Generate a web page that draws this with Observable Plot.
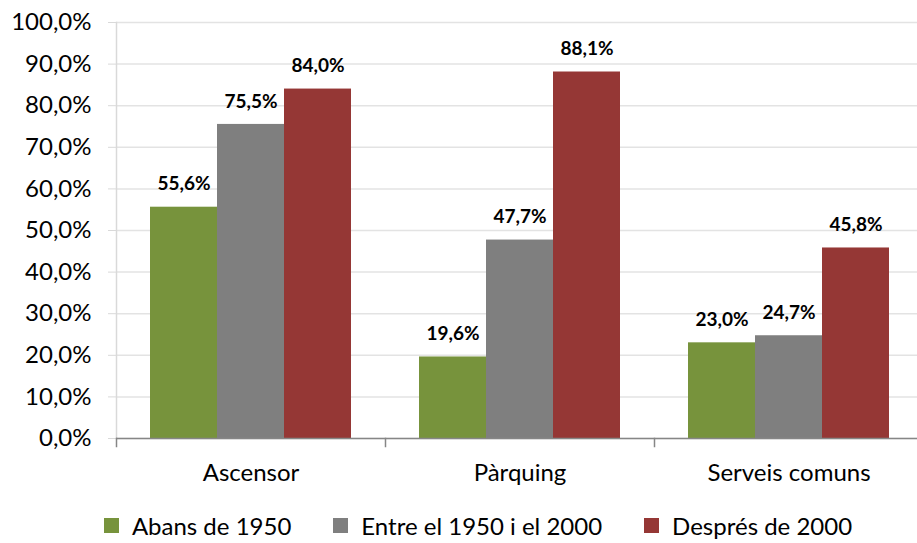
<!DOCTYPE html>
<html><head><meta charset="utf-8">
<script src="https://cdn.jsdelivr.net/npm/d3@7"></script>
<script src="https://cdn.jsdelivr.net/npm/@observablehq/plot@0.6"></script>
<style>
html,body{margin:0;padding:0;background:#fff;overflow:hidden}
#wrap{width:917px;height:543px;overflow:hidden;position:relative;font-family:Lato,sans-serif}
#wrap svg{max-width:none !important}
#legend{display:flex;justify-content:center;align-items:center;height:50px;padding-left:39px;font-size:24px;color:#000}
#legend .item{display:flex;align-items:center;margin:0 21px}
#legend .sw{width:15px;height:15px;margin-right:13px}
</style></head><body><div id="wrap"></div>
<script>
const categories = ["Ascensor", "Pàrquing", "Serveis comuns"];
const series = ["Abans de 1950", "Entre el 1950 i el 2000", "Després de 2000"];
const colors = ["#77933C", "#7F7F7F", "#953735"];
const abans = [55.6, 19.6, 23.0];
const entre = [75.5, 47.7, 24.7];
const despres = [84.0, 88.1, 45.8];
const yTicks = [0, 10, 20, 30, 40, 50, 60, 70, 80, 90, 100];

const values = [abans, entre, despres];
const data = categories.flatMap((c, i) => series.map((s, j) => ({cat: c, series: s, value: values[j][i]})));
const fmt = d => d.toFixed(1).replace(".", ",") + "%";

const chart = Plot.plot({
  width: 923, height: 500,
  marginLeft: 116, marginRight: 0, marginTop: 22, marginBottom: 62,
  style: {fontFamily: "Lato, sans-serif", color: "#000", background: "#fff", overflow: "visible", maxWidth: "none"},
  fx: {domain: categories, padding: 0, label: null},
  x: {domain: series, paddingInner: 0, paddingOuter: 0.5, axis: null},
  y: {domain: [0, 100], axis: null},
  color: {domain: series, range: colors},
  marks: [
    Plot.gridY(yTicks, {stroke: "#e3e3e3", strokeOpacity: 1, strokeWidth: 1.5}),
    Plot.frame({anchor: "left", stroke: "#d9d9d9", strokeWidth: 1.5, facetAnchor: "left"}),
    Plot.axisY(yTicks, {tickSize: 8, tickPadding: 17, tickFormat: fmt, stroke: "#d9d9d9", fill: "#000", fontSize: 24, label: null}),
    Plot.barY(data, {fx: "cat", x: "series", y: "value", fill: "series"}),
    Plot.ruleY([0], {stroke: "#868686", strokeWidth: 1.5}),
    Plot.frame({anchor: "left", stroke: "#868686", strokeWidth: 1.5, insetTop: 416, insetBottom: -8}),
    Plot.axisFx({anchor: "bottom", tickSize: 0, tickPadding: 25, fontSize: 24, fill: "#000", label: null}),
    Plot.text(data, {fx: "cat", x: "series", y: "value", text: d => fmt(d.value), dy: -23, fontWeight: "bold", fontSize: 19, fill: "#000"})
  ]
});
document.getElementById("wrap").append(chart);

const legend = d3.select("#wrap").append("div").attr("id", "legend");
const items = legend.selectAll(".item").data(series).join("div").attr("class", "item");
items.append("div").attr("class", "sw").style("background", (d, i) => colors[i]);
items.append("span").text(d => d);
</script>
</body></html>
